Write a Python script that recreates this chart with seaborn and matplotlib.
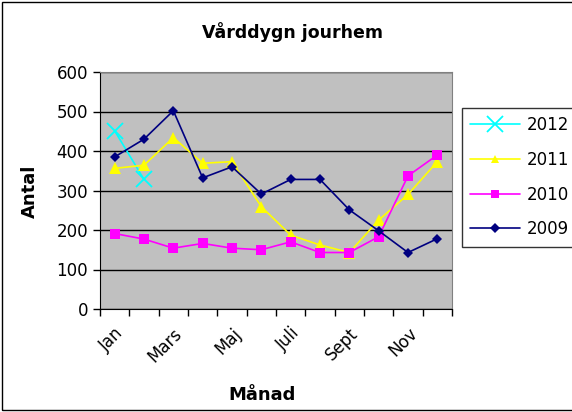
import numpy as np
import pandas as pd
import seaborn as sns
import matplotlib.pyplot as plt
from matplotlib.patches import Rectangle

months = ['Jan', 'Feb', 'Mars', 'April', 'Maj', 'Juni', 'Juli', 'Aug', 'Sept', 'Okt', 'Nov', 'Dec']
shown_labels = ['Jan', 'Mars', 'Maj', 'Juli', 'Sept', 'Nov']
years = ['2012', '2011', '2010', '2009']

v2012 = [451, 328]
v2011 = [356, 364, 434, 369, 373, 259, 187, 162, 143, 225, 290, 373]
v2010 = [191, 177, 154, 166, 154, 150, 170, 143, 143, 183, 337, 390]
v2009 = [385, 430, 502, 332, 360, 291, 328, 328, 251, 198, 143, 178]

series = {'2012': v2012, '2011': v2011, '2010': v2010, '2009': v2009}
rows = []
for y in years:
    for i, v in enumerate(series[y]):
        rows.append({'month': i, 'Antal': v, 'year': y})
df = pd.DataFrame(rows)

sns.set_style('white')
plt.rcParams['font.family'] = ['DejaVu Sans']
plt.rcParams['text.color'] = 'black'
plt.rcParams['xtick.color'] = 'black'
plt.rcParams['ytick.color'] = 'black'

fig = plt.figure(figsize=(5.72, 4.12), dpi=100)
ax = fig.add_axes([100/572, 1-309/412, 352/572, 237/412])
ax.set_facecolor('#c0c0c0')

palette = {'2012': '#00ffff', '2011': '#ffff00', '2010': '#ff00ff', '2009': '#000080'}
markers = {'2012': 'X', '2011': '^', '2010': 's', '2009': 'D'}
sizes = {'2012': 11, '2011': 8, '2010': 7, '2009': 5.5}
sns.lineplot(data=df, x='month', y='Antal', hue='year', style='year', hue_order=years,
             style_order=years, palette=palette, markers=markers, dashes=False,
             markersize=7, linewidth=1.2, markeredgewidth=0, ax=ax, legend=False, zorder=3)
# fix marker shapes/sizes per series
for line in ax.lines:
    c = line.get_color()
    for y in years:
        if c == palette[y]:
            line.set_markersize(sizes[y])
            if y == '2012':
                line.set_marker('x')
                line.set_markeredgewidth(1.3)
                line.set_markeredgecolor(c)

ax.set_xlim(-0.5, 11.5)
ax.set_ylim(0, 600)
ax.set_yticks(np.arange(0, 601, 100))
ax.yaxis.grid(True, color='black', linewidth=1)
ax.set_axisbelow(True)
ax.set_xticks(np.arange(-0.5, 12, 1))
ax.set_xticklabels([])
ax.set_xticks([months.index(m) for m in shown_labels], minor=True)
ax.set_xticklabels(shown_labels, minor=True, rotation=45, ha='right', va='top',
                   rotation_mode='anchor', fontsize=12)
ax.tick_params(axis='x', which='minor', length=0, pad=11)
ax.tick_params(axis='x', which='major', direction='out', length=5, width=1, bottom=True, color='black')
ax.tick_params(axis='y', direction='out', length=5, width=1, left=True, labelsize=12, color='black')
ax.set_xlabel('')
ax.set_ylabel('')
for s in ['top', 'right']:
    ax.spines[s].set_color('#808080')
for s in ['left', 'bottom']:
    ax.spines[s].set_color('black')

fig.text(292/572, 1-32/412, 'Vårddygn jourhem', ha='center', va='center', fontsize=12.5, fontweight='bold')
fig.text(30/572, 1-191/412, 'Antal', ha='center', va='center', rotation=90, fontsize=13, fontweight='bold')
fig.text(262/572, 1-395/412, 'Månad', ha='center', va='center', fontsize=13, fontweight='bold')

handles = []
for y in years:
    ms = 11 if y == '2012' else 5.5
    mk = 'x' if y == '2012' else markers[y]
    h, = ax.plot([], [], color=palette[y], marker=mk, markersize=ms, markeredgewidth=1.3 if y == '2012' else 0,
                 linewidth=1.2)
    handles.append(h)
leg = fig.legend(handles, years, loc='upper left', bbox_to_anchor=(462/572, 1-108/412),
                 frameon=True, fancybox=False, edgecolor='black', fontsize=12, handlelength=3.0,
                 labelspacing=1.0, borderpad=0.5, handletextpad=0.4, borderaxespad=0)
leg.get_frame().set_linewidth(1)

fig.patches.append(Rectangle((2/572, 2/412), 1.2, 1 - 4/412, transform=fig.transFigure,
                             fill=False, edgecolor='black', linewidth=1))

fig.savefig('out.png', dpi=100)
